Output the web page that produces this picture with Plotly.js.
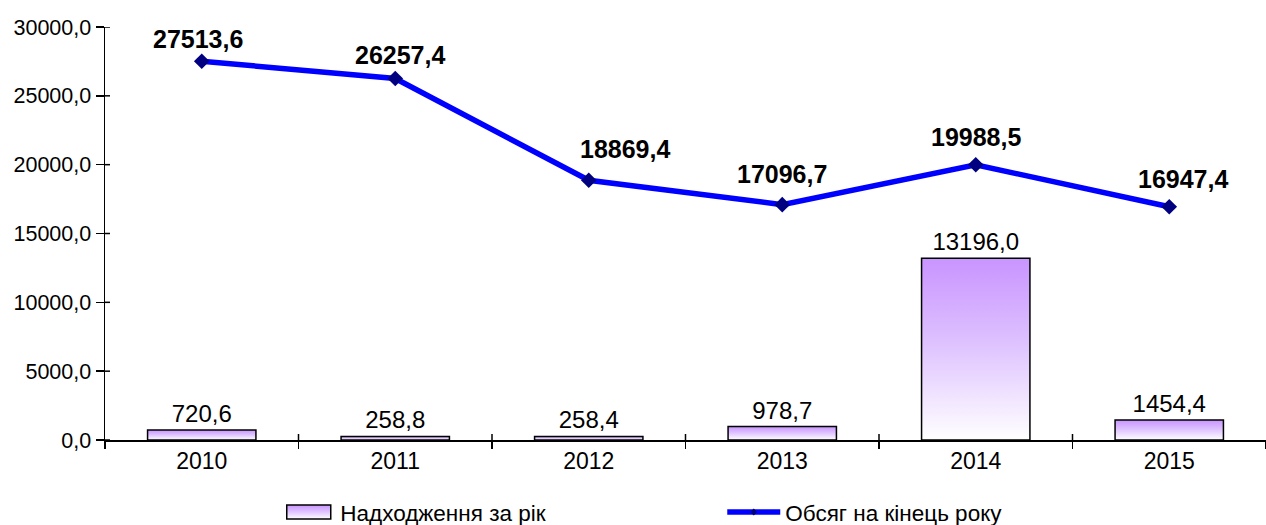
<!DOCTYPE html>
<html>
<head>
<meta charset="utf-8">
<script src="https://cdn.plot.ly/plotly-3.0.1.min.js"></script>
<style>html,body{margin:0;padding:0;background:#fff;}#chart{width:1266px;height:525px;}</style>
</head>
<body>
<div id="chart"></div>
<script>
const years = ['2010', '2011', '2012', '2013', '2014', '2015'];
const receipts = [720.6, 258.8, 258.4, 978.7, 13196.0, 1454.4];
const volume = [27513.6, 26257.4, 18869.4, 17096.7, 19988.5, 16947.4];
const receiptsName = 'Надходження за рік';
const volumeName = 'Обсяг на кінець року';
const yTicks = [0, 5000, 10000, 15000, 20000, 25000, 30000];

// label placement offsets (pixels) for the line labels, as in the original
const labelDX = [-4, 5, 36, 0, 0, 14];
const labelDY = [22, 24, 31, 31, 28, 28];

const FONT = 'Liberation Sans, Arial, sans-serif';

const traces = [
  {
    type: 'bar', x: years, y: receipts, name: receiptsName,
    marker: {color: '#d8b8ff', line: {color: '#000', width: 1.5}},
    texttemplate: '%{y:.1f}', textposition: 'outside', cliponaxis: false,
    textfont: {family: FONT, size: 24, color: '#000'},
    hoverinfo: 'skip'
  },
  {
    type: 'scatter', mode: 'lines+markers', x: years, y: volume, name: volumeName,
    line: {color: '#0000ff', width: 5.5},
    marker: {symbol: 'diamond', size: 12, color: '#000080'},
    cliponaxis: false,
    hoverinfo: 'skip'
  }
];

const fmt = v => v.toFixed(1).replace('.', ',');
const annotations = years.map((yr, i) => ({
  x: i, y: volume[i], xref: 'x', yref: 'y',
  text: '<b>' + fmt(volume[i]) + '</b>', showarrow: false,
  xanchor: 'center', yanchor: 'middle', xshift: labelDX[i], yshift: labelDY[i],
  font: {family: FONT, size: 25, color: '#000'}
}));

// inner halves of the crossing tick marks
const shapes = yTicks.map(v => ({
  type: 'line', xref: 'paper', yref: 'y', xsizemode: 'pixel', xanchor: 0,
  x0: 0, x1: 5, y0: v, y1: v, line: {color: '#000', width: 1.5}
})).concat(years.slice(0, -1).map((yr, i) => ({
  type: 'line', xref: 'x', yref: 'paper', ysizemode: 'pixel', yanchor: 0,
  x0: i + 0.5, x1: i + 0.5, y0: 0, y1: 6, line: {color: '#000', width: 1.5}
})));

const layout = {
  width: 1266, height: 525,
  margin: {l: 105, r: 0, t: 27, b: 85},
  paper_bgcolor: '#fff', plot_bgcolor: '#fff',
  separators: ', ',
  font: {family: FONT, size: 22, color: '#000'},
  bargap: 0.44,
  showlegend: true,
  annotations: annotations,
  shapes: shapes,
  legend: {orientation: 'h', xref: 'container', yref: 'container', x: 0.219, xanchor: 'left',
           y: 0.024, yanchor: 'middle', bgcolor: 'rgba(0,0,0,0)',
           font: {family: FONT, size: 22.5, color: '#000'}, entrywidth: 377, traceorder: 'normal',
           itemwidth: 53},
  xaxis: {type: 'category', range: [-0.5, 5.5], showline: true, linecolor: '#000', linewidth: 1.5,
          ticks: 'outside', tickson: 'boundaries', ticklen: 7, tickcolor: '#000', tickwidth: 1.5,
          showgrid: false, zeroline: false, tickfont: {family: FONT, size: 23}},
  yaxis: {range: [0, 30000], tickvals: yTicks, tickformat: '.1f', showline: true,
          linecolor: '#000', linewidth: 1.5, ticks: 'outside', ticklen: 8, tickcolor: '#000',
          tickwidth: 1.5, showgrid: false, zeroline: false, tickfont: {family: FONT, size: 21.5}}
};

Plotly.newPlot('chart', traces, layout, {staticPlot: true}).then(function (gd) {
  const svg = gd.querySelector('svg.main-svg');
  const ns = 'http://www.w3.org/2000/svg';
  let defs = svg.querySelector('defs');
  if (!defs) { defs = document.createElementNS(ns, 'defs'); svg.insertBefore(defs, svg.firstChild); }
  const g = document.createElementNS(ns, 'linearGradient');
  g.setAttribute('id', 'barGrad');
  g.setAttribute('x1', '0'); g.setAttribute('y1', '0');
  g.setAttribute('x2', '0'); g.setAttribute('y2', '1');
  [['0', '#c994ff'], ['0.45', '#ddc0ff'], ['1', '#ffffff']].forEach(function (s) {
    const st = document.createElementNS(ns, 'stop');
    st.setAttribute('offset', s[0]); st.setAttribute('stop-color', s[1]);
    g.appendChild(st);
  });
  defs.appendChild(g);
  gd.querySelectorAll('.barlayer .point path').forEach(function (p) { p.style.fill = 'url(#barGrad)'; });
  const items = gd.querySelectorAll('.legend .traces');
  if (items[0]) items[0].querySelectorAll('.legendpoints path').forEach(function (p) {
    p.style.fill = 'url(#barGrad)';
    p.setAttribute('d', 'M22,7H-22V-7H22Z');
  });
  if (items[1]) items[1].querySelectorAll('path.scatterpts').forEach(function (p) {
    p.setAttribute('d', 'M3.5,0L0,3.5L-3.5,0L0,-3.5Z');
  });
});
</script>
</body>
</html>
